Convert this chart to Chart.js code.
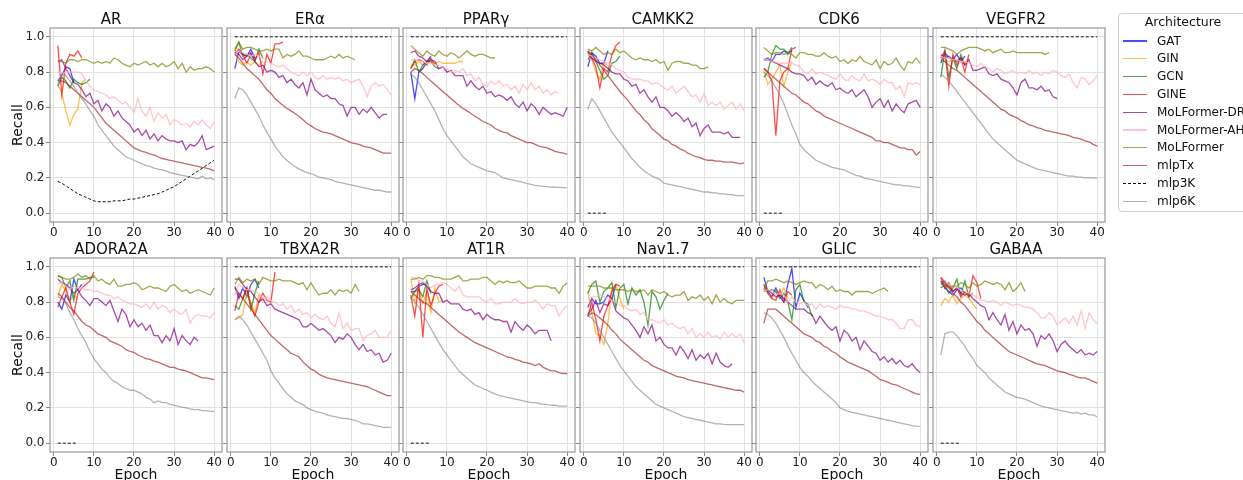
<!DOCTYPE html>
<html><head><meta charset="utf-8">
<script src="https://cdn.jsdelivr.net/npm/chart.js@4.4.0/dist/chart.umd.min.js"></script>
<style>
html,body{margin:0;padding:0;background:#fff;}
body{width:1243px;height:480px;overflow:hidden;position:relative;font-family:'DejaVu Sans',sans-serif;color:#111;}
canvas{position:absolute;}
.lg{position:absolute;font-size:12px;line-height:14px;white-space:nowrap;color:#111;}
.sw{position:absolute;width:24px;height:0;}
</style>
</head><body>
<script>
// ---------- DATA ----------
const epochs = [1,2,3,4,5,6,7,8,9,10,11,12,13,14,15,16,17,18,19,20,21,22,23,24,25,26,27,28,29,30,31,32,33,34,35,36,37,38,39,40];
const xTickValues = [0,10,20,30,40];
const yTickValues = [0,0.2,0.4,0.6,0.8,1.0];
const targets = ['AR','ERα','PPARγ','CAMKK2','CDK6','VEGFR2','ADORA2A','TBXA2R','AT1R','Nav1.7','GLIC','GABAA'];
const architectures = ['GAT','GIN','GCN','GINE','MoLFormer-DR','MoLFormer-AH','MoLFormer','mlpTx','mlp3K','mlp6K'];

// AR
const AR_GAT = [0.75,0.78,0.83,0.82,0.74];
const AR_GIN = [0.73,0.68,0.58,0.50,0.56,0.59,0.74,0.76];
const AR_GCN = [0.72,0.77,0.75,0.71,0.76,0.74,0.73,0.74,0.76];
const AR_GINE = [0.95,0.67,0.85,0.90,0.89,0.92,0.88];
const AR_DR = [0.86,0.87,0.82,0.78,0.74,0.73,0.70,0.66,0.68,0.62,0.64,0.58,0.62,0.60,0.55,0.58,0.54,0.52,0.50,0.46,0.48,0.44,0.47,0.42,0.45,0.41,0.44,0.42,0.41,0.41,0.40,0.41,0.36,0.39,0.38,0.40,0.44,0.36,0.37,0.38];
const AR_AH = [0.80,0.79,0.80,0.80,0.80,0.80,0.79,0.75,0.72,0.70,0.69,0.68,0.67,0.65,0.66,0.64,0.62,0.63,0.60,0.57,0.65,0.58,0.55,0.60,0.52,0.57,0.54,0.56,0.50,0.53,0.52,0.50,0.51,0.49,0.52,0.50,0.53,0.50,0.48,0.52];
const AR_MoL = [0.86,0.86,0.85,0.87,0.87,0.86,0.87,0.87,0.86,0.85,0.86,0.85,0.86,0.85,0.88,0.87,0.85,0.84,0.83,0.85,0.84,0.85,0.86,0.84,0.85,0.83,0.85,0.83,0.84,0.86,0.82,0.85,0.80,0.83,0.81,0.82,0.82,0.83,0.82,0.80];
const AR_Tx = [0.75,0.75,0.74,0.72,0.70,0.68,0.66,0.64,0.62,0.60,0.57,0.54,0.51,0.49,0.47,0.45,0.43,0.41,0.39,0.37,0.36,0.35,0.345,0.335,0.33,0.32,0.31,0.305,0.30,0.295,0.29,0.285,0.28,0.275,0.27,0.265,0.26,0.255,0.25,0.24];
const AR_3K = [0.18,0.17,0.155,0.14,0.125,0.11,0.10,0.09,0.08,0.07,0.065,0.065,0.065,0.065,0.07,0.07,0.07,0.075,0.08,0.08,0.085,0.09,0.095,0.10,0.105,0.11,0.12,0.13,0.14,0.15,0.165,0.18,0.195,0.21,0.225,0.24,0.255,0.27,0.285,0.30];
const AR_6K = [0.73,0.79,0.78,0.75,0.72,0.68,0.65,0.62,0.58,0.55,0.50,0.47,0.44,0.41,0.38,0.36,0.34,0.32,0.31,0.30,0.29,0.28,0.27,0.265,0.255,0.25,0.245,0.24,0.23,0.225,0.22,0.215,0.21,0.205,0.20,0.195,0.21,0.195,0.20,0.19];

// ERα
const ERa_GAT = [0.82,0.92,0.90,0.89,0.93,0.88];
const ERa_GIN = [0.92,0.86,0.84,0.86,0.84,0.86,0.84,0.86];
const ERa_GCN = [0.92,0.97,0.89,0.90,0.88,0.86,0.93,0.88];
const ERa_GINE = [0.90,0.93,0.90,0.85,0.90,0.87,0.91,0.79,0.90,0.85,0.96,0.96,0.97];
const ERa_DR = [0.91,0.90,0.87,0.89,0.91,0.86,0.83,0.84,0.80,0.81,0.80,0.77,0.78,0.74,0.76,0.73,0.71,0.74,0.67,0.76,0.70,0.68,0.66,0.67,0.65,0.65,0.62,0.61,0.55,0.60,0.60,0.56,0.59,0.57,0.60,0.57,0.54,0.56,0.56];
const ERa_AH = [0.90,0.92,0.91,0.90,0.89,0.90,0.89,0.88,0.86,0.85,0.84,0.83,0.84,0.82,0.80,0.79,0.78,0.80,0.78,0.80,0.77,0.76,0.78,0.76,0.77,0.76,0.77,0.75,0.76,0.74,0.75,0.76,0.72,0.66,0.72,0.74,0.72,0.73,0.70,0.67];
const ERa_MoL = [0.93,0.97,0.93,0.94,0.94,0.93,0.92,0.92,0.93,0.92,0.93,0.93,0.88,0.90,0.89,0.90,0.92,0.89,0.89,0.88,0.87,0.87,0.87,0.88,0.89,0.88,0.90,0.88,0.89,0.88,0.87];
const ERa_Tx = [0.90,0.88,0.85,0.82,0.80,0.78,0.76,0.73,0.70,0.68,0.65,0.63,0.61,0.595,0.58,0.565,0.55,0.53,0.51,0.495,0.48,0.47,0.46,0.455,0.45,0.44,0.43,0.42,0.41,0.40,0.395,0.39,0.38,0.375,0.37,0.36,0.35,0.34,0.34,0.34];
const ERa_3K = [1,1,1,1,1,1,1,1,1,1,1,1,1,1,1,1,1,1,1,1,1,1,1,1,1,1,1,1,1,1,1,1,1,1,1,1,1,1,1,1];
const ERa_6K = [0.65,0.71,0.70,0.67,0.63,0.59,0.55,0.50,0.46,0.42,0.38,0.35,0.32,0.30,0.28,0.265,0.25,0.24,0.23,0.225,0.215,0.205,0.20,0.195,0.19,0.18,0.175,0.17,0.165,0.16,0.155,0.15,0.145,0.14,0.135,0.13,0.13,0.125,0.12,0.12];

// PPARγ
const PPARg_GAT = [0.80,0.65,0.80,0.82,0.86,0.89];
const PPARg_GIN = [0.84,0.84,0.86,0.84,0.86,0.86,0.85,0.86,0.85,0.85,0.85,0.85,0.86,0.86];
const PPARg_GCN = [0.82,0.87,0.80,0.84,0.86,0.86,0.83,0.82];
const PPARg_GINE = [0.82,0.86,0.87,0.86,0.84,0.88,0.84];
const PPARg_DR = [0.91,0.92,0.89,0.88,0.86,0.87,0.86,0.82,0.83,0.80,0.81,0.78,0.78,0.78,0.72,0.75,0.72,0.70,0.72,0.68,0.69,0.66,0.67,0.66,0.64,0.66,0.62,0.60,0.63,0.58,0.62,0.60,0.56,0.60,0.58,0.56,0.57,0.56,0.55,0.60];
const PPARg_AH = [0.87,0.87,0.86,0.86,0.85,0.85,0.84,0.84,0.83,0.82,0.80,0.81,0.80,0.82,0.78,0.79,0.75,0.77,0.73,0.72,0.75,0.73,0.75,0.72,0.73,0.70,0.72,0.68,0.73,0.70,0.74,0.70,0.72,0.68,0.70,0.67,0.69,0.68];
const PPARg_MoL = [0.95,0.93,0.91,0.89,0.92,0.90,0.89,0.92,0.90,0.89,0.91,0.90,0.88,0.90,0.92,0.90,0.89,0.90,0.90,0.89,0.88,0.88];
const PPARg_Tx = [0.80,0.82,0.81,0.79,0.77,0.75,0.73,0.71,0.69,0.67,0.65,0.63,0.61,0.595,0.58,0.565,0.55,0.535,0.52,0.51,0.50,0.48,0.47,0.46,0.455,0.44,0.43,0.42,0.41,0.40,0.40,0.39,0.38,0.375,0.37,0.36,0.35,0.345,0.34,0.335];
const PPARg_3K = [1,1,1,1,1,1,1,1,1,1,1,1,1,1,1,1,1,1,1,1,1,1,1,1,1,1,1,1,1,1,1,1,1,1,1,1,1,1,1,1];
const PPARg_6K = [0.79,0.77,0.74,0.70,0.66,0.62,0.58,0.53,0.48,0.44,0.41,0.38,0.35,0.32,0.30,0.28,0.27,0.26,0.25,0.24,0.235,0.23,0.215,0.20,0.195,0.19,0.185,0.18,0.175,0.168,0.163,0.158,0.155,0.152,0.15,0.148,0.147,0.146,0.145,0.145];

// CAMKK2
const CAMKK2_GAT = [0.83,0.91,0.89,0.85,0.85,0.92];
const CAMKK2_GIN = [0.90,0.87,0.80,0.76,0.85,0.84];
const CAMKK2_GCN = [0.87,0.91,0.86,0.81,0.76,0.78,0.85,0.86,0.89];
const CAMKK2_GINE = [0.91,0.88,0.83,0.71,0.82,0.80,0.90,0.95,0.97];
const CAMKK2_DR = [0.92,0.88,0.86,0.85,0.84,0.82,0.80,0.79,0.79,0.76,0.75,0.72,0.73,0.68,0.70,0.66,0.63,0.66,0.60,0.60,0.58,0.55,0.57,0.55,0.52,0.54,0.49,0.51,0.44,0.48,0.50,0.46,0.46,0.46,0.45,0.46,0.43,0.43,0.43];
const CAMKK2_AH = [0.90,0.89,0.88,0.87,0.86,0.85,0.84,0.82,0.81,0.80,0.77,0.76,0.76,0.76,0.75,0.75,0.73,0.74,0.73,0.71,0.70,0.72,0.68,0.70,0.72,0.69,0.66,0.67,0.63,0.68,0.61,0.63,0.61,0.63,0.59,0.61,0.63,0.59,0.62,0.58];
const CAMKK2_MoL = [0.93,0.92,0.94,0.92,0.90,0.91,0.90,0.93,0.91,0.92,0.90,0.88,0.87,0.88,0.87,0.87,0.86,0.87,0.85,0.86,0.81,0.85,0.86,0.86,0.85,0.85,0.84,0.84,0.82,0.82,0.83];
const CAMKK2_Tx = [0.92,0.90,0.87,0.84,0.81,0.78,0.75,0.72,0.69,0.665,0.64,0.61,0.58,0.56,0.53,0.51,0.48,0.46,0.44,0.42,0.41,0.39,0.38,0.365,0.355,0.34,0.33,0.32,0.315,0.305,0.30,0.30,0.295,0.295,0.29,0.29,0.29,0.285,0.28,0.285];
const CAMKK2_3K = [0,0,0,0,0,0];
const CAMKK2_6K = [0.59,0.65,0.62,0.58,0.54,0.50,0.46,0.43,0.40,0.37,0.34,0.31,0.285,0.26,0.24,0.225,0.21,0.20,0.19,0.17,0.165,0.16,0.155,0.15,0.145,0.14,0.135,0.13,0.125,0.12,0.12,0.115,0.115,0.11,0.11,0.105,0.105,0.10,0.10,0.10];

// CDK6
const CDK6_GAT = [0.87,0.87,0.86,0.90,0.90,0.92,0.91,0.92];
const CDK6_GIN = [0.81,0.73,0.76,0.80,0.84,0.72,0.80,0.86];
const CDK6_GCN = [0.77,0.80,0.90,0.95,0.93,0.93,0.90,0.94];
const CDK6_GINE = [0.82,0.80,0.75,0.44,0.75,0.80,0.82,0.93,0.94];
const CDK6_DR = [0.87,0.88,0.86,0.85,0.84,0.83,0.82,0.80,0.79,0.79,0.78,0.75,0.77,0.73,0.75,0.73,0.72,0.74,0.70,0.71,0.69,0.68,0.70,0.66,0.68,0.70,0.66,0.60,0.63,0.65,0.60,0.64,0.58,0.62,0.59,0.57,0.62,0.63,0.64,0.60];
const CDK6_AH = [0.87,0.87,0.86,0.86,0.85,0.85,0.85,0.85,0.84,0.83,0.80,0.79,0.82,0.79,0.80,0.79,0.78,0.77,0.76,0.79,0.76,0.75,0.78,0.76,0.75,0.79,0.75,0.76,0.75,0.73,0.76,0.74,0.74,0.70,0.72,0.66,0.74,0.73,0.74,0.73];
const CDK6_MoL = [0.94,0.92,0.90,0.91,0.91,0.90,0.91,0.90,0.88,0.91,0.91,0.90,0.90,0.89,0.89,0.91,0.89,0.88,0.89,0.86,0.87,0.85,0.87,0.86,0.89,0.86,0.85,0.84,0.87,0.82,0.86,0.84,0.85,0.88,0.84,0.81,0.86,0.85,0.88,0.85];
const CDK6_Tx = [0.82,0.80,0.78,0.76,0.74,0.72,0.70,0.68,0.67,0.65,0.63,0.62,0.60,0.58,0.57,0.55,0.54,0.53,0.52,0.51,0.50,0.49,0.48,0.47,0.46,0.45,0.44,0.43,0.41,0.41,0.40,0.40,0.39,0.38,0.37,0.37,0.36,0.36,0.33,0.35];
const CDK6_3K = [0,0,0,0,0,0];
const CDK6_6K = [0.80,0.78,0.75,0.71,0.67,0.62,0.56,0.50,0.45,0.39,0.36,0.34,0.32,0.30,0.29,0.28,0.27,0.26,0.255,0.25,0.245,0.235,0.225,0.215,0.21,0.20,0.195,0.19,0.185,0.18,0.175,0.17,0.165,0.16,0.16,0.155,0.155,0.15,0.148,0.145];

// VEGFR2
const VEGFR2_GAT = [0.85,0.91,0.88,0.87,0.90,0.86,0.89];
const VEGFR2_GIN = [0.88,0.86,0.86,0.87,0.87,0.86,0.85,0.88];
const VEGFR2_GCN = [0.77,0.92,0.77,0.88,0.82,0.90,0.84];
const VEGFR2_GINE = [0.88,0.92,0.72,0.90,0.84,0.88,0.80,0.90];
const VEGFR2_DR = [0.90,0.88,0.89,0.87,0.86,0.88,0.84,0.87,0.81,0.81,0.82,0.83,0.79,0.78,0.79,0.76,0.75,0.74,0.71,0.67,0.74,0.76,0.71,0.71,0.70,0.72,0.69,0.70,0.66,0.65];
const VEGFR2_AH = [0.89,0.88,0.88,0.87,0.87,0.86,0.86,0.85,0.84,0.83,0.85,0.83,0.82,0.80,0.82,0.81,0.79,0.80,0.81,0.79,0.80,0.79,0.81,0.79,0.80,0.78,0.80,0.79,0.81,0.80,0.78,0.77,0.79,0.74,0.71,0.77,0.76,0.73,0.75,0.78];
const VEGFR2_MoL = [0.94,0.94,0.93,0.92,0.90,0.92,0.93,0.94,0.94,0.94,0.93,0.92,0.93,0.91,0.92,0.93,0.91,0.91,0.92,0.91,0.91,0.91,0.91,0.91,0.91,0.91,0.90,0.91];
const VEGFR2_Tx = [0.87,0.86,0.84,0.82,0.81,0.79,0.77,0.75,0.73,0.71,0.69,0.67,0.65,0.63,0.61,0.59,0.58,0.56,0.55,0.54,0.525,0.515,0.50,0.495,0.485,0.48,0.47,0.465,0.46,0.455,0.45,0.445,0.44,0.43,0.425,0.42,0.41,0.405,0.39,0.38];
const VEGFR2_3K = [1,1,1,1,1,1,1,1,1,1,1,1,1,1,1,1,1,1,1,1,1,1,1,1,1,1,1,1,1,1,1,1,1,1,1,1,1,1,1,1];
const VEGFR2_6K = [0.79,0.77,0.75,0.72,0.69,0.66,0.63,0.60,0.57,0.54,0.51,0.48,0.45,0.42,0.40,0.38,0.36,0.34,0.32,0.30,0.29,0.28,0.27,0.26,0.25,0.245,0.24,0.235,0.23,0.225,0.22,0.215,0.21,0.21,0.205,0.205,0.20,0.20,0.20,0.197];

// ADORA2A
const ADORA2A_GAT = [0.80,0.76,0.84,0.80,0.93,0.87,0.90];
const ADORA2A_GIN = [0.83,0.90,0.86,0.80,0.84,0.82];
const ADORA2A_GCN = [0.95,0.94,0.88,0.92,0.81,0.93,0.93,0.93,0.94,0.94];
const ADORA2A_GINE = [0.77,0.83,0.88,0.80,0.73,0.85,0.88,0.90,0.92,0.97];
const ADORA2A_DR = [0.93,0.91,0.90,0.88,0.85,0.87,0.83,0.81,0.78,0.82,0.82,0.80,0.78,0.81,0.75,0.69,0.76,0.73,0.66,0.70,0.66,0.68,0.64,0.67,0.61,0.61,0.57,0.61,0.58,0.65,0.56,0.61,0.58,0.56,0.60,0.58];
const ADORA2A_AH = [0.90,0.91,0.89,0.87,0.89,0.88,0.88,0.87,0.87,0.86,0.86,0.85,0.84,0.84,0.82,0.83,0.81,0.80,0.79,0.79,0.78,0.77,0.79,0.76,0.80,0.76,0.78,0.77,0.74,0.76,0.74,0.73,0.76,0.68,0.72,0.73,0.72,0.72,0.71,0.74];
const ADORA2A_MoL = [0.95,0.94,0.93,0.93,0.94,0.96,0.94,0.95,0.93,0.95,0.92,0.93,0.91,0.90,0.93,0.89,0.89,0.90,0.90,0.91,0.90,0.87,0.88,0.89,0.88,0.88,0.87,0.86,0.89,0.90,0.88,0.86,0.87,0.85,0.86,0.87,0.86,0.85,0.84,0.88];
const ADORA2A_Tx = [0.85,0.83,0.80,0.77,0.75,0.72,0.69,0.67,0.66,0.64,0.62,0.61,0.60,0.58,0.57,0.56,0.55,0.53,0.52,0.515,0.50,0.49,0.48,0.475,0.465,0.46,0.45,0.44,0.43,0.43,0.42,0.415,0.41,0.40,0.39,0.38,0.37,0.37,0.365,0.36];
const ADORA2A_3K = [0,0,0,0,0,0];
const ADORA2A_6K = [0.83,0.82,0.79,0.74,0.70,0.65,0.61,0.57,0.52,0.48,0.45,0.42,0.40,0.37,0.35,0.34,0.32,0.31,0.30,0.30,0.29,0.28,0.26,0.25,0.23,0.24,0.23,0.23,0.22,0.215,0.21,0.205,0.20,0.195,0.19,0.19,0.185,0.185,0.18,0.18];

// TBXA2R
const TBXA2R_GAT = [0.89,0.82,0.88,0.83,0.90,0.93,0.88];
const TBXA2R_GIN = [0.70,0.71,0.73,0.86,0.80,0.74,0.84,0.80];
const TBXA2R_GCN = [0.78,0.76,0.82,0.88,0.76,0.85,0.92];
const TBXA2R_GINE = [0.75,0.85,0.82,0.88,0.78,0.72,0.80,0.85,0.81,0.80,0.97];
const TBXA2R_DR = [0.93,0.93,0.90,0.87,0.86,0.83,0.80,0.82,0.78,0.79,0.76,0.75,0.74,0.73,0.72,0.71,0.70,0.66,0.66,0.68,0.66,0.64,0.65,0.63,0.61,0.57,0.60,0.59,0.62,0.60,0.56,0.53,0.56,0.52,0.53,0.50,0.51,0.46,0.47,0.51];
const TBXA2R_AH = [0.84,0.90,0.88,0.87,0.87,0.86,0.85,0.82,0.83,0.81,0.80,0.78,0.79,0.76,0.78,0.74,0.76,0.73,0.74,0.71,0.73,0.71,0.70,0.72,0.68,0.66,0.74,0.65,0.68,0.64,0.65,0.65,0.58,0.61,0.62,0.64,0.60,0.60,0.60,0.64];
const TBXA2R_MoL = [0.90,0.94,0.91,0.93,0.92,0.93,0.90,0.94,0.93,0.92,0.92,0.93,0.92,0.92,0.92,0.91,0.90,0.91,0.87,0.91,0.87,0.84,0.85,0.85,0.87,0.84,0.87,0.86,0.87,0.85,0.90,0.86];
const TBXA2R_Tx = [0.88,0.85,0.82,0.79,0.76,0.73,0.70,0.67,0.64,0.61,0.59,0.57,0.55,0.53,0.51,0.50,0.49,0.46,0.44,0.42,0.41,0.39,0.38,0.37,0.365,0.36,0.355,0.35,0.345,0.34,0.335,0.33,0.325,0.32,0.31,0.30,0.29,0.28,0.27,0.27];
const TBXA2R_3K = [1,1,1,1,1,1,1,1,1,1,1,1,1,1,1,1,1,1,1,1,1,1,1,1,1,1,1,1,1,1,1,1,1,1,1,1,1,1,1,1];
const TBXA2R_6K = [0.70,0.72,0.70,0.67,0.63,0.59,0.55,0.51,0.47,0.41,0.37,0.34,0.31,0.28,0.26,0.24,0.23,0.22,0.20,0.19,0.18,0.175,0.17,0.16,0.155,0.15,0.145,0.14,0.14,0.135,0.13,0.12,0.11,0.11,0.105,0.10,0.095,0.09,0.09,0.09];

// AT1R
const AT1R_GAT = [0.86,0.86,0.89,0.90,0.90];
const AT1R_GIN = [0.93,0.80,0.88,0.79,0.86,0.74,0.88,0.80,0.81];
const AT1R_GCN = [0.82,0.86,0.87,0.83,0.92,0.85];
const AT1R_GINE = [0.84,0.72,0.90,0.60,0.88,0.78,0.85,0.89,0.90];
const AT1R_DR = [0.87,0.88,0.90,0.91,0.89,0.86,0.85,0.85,0.80,0.81,0.79,0.79,0.79,0.76,0.75,0.76,0.73,0.74,0.70,0.73,0.71,0.70,0.70,0.69,0.69,0.63,0.69,0.66,0.64,0.67,0.65,0.62,0.64,0.64,0.64,0.58];
const AT1R_AH = [0.94,0.94,0.92,0.92,0.90,0.88,0.90,0.90,0.91,0.90,0.88,0.86,0.89,0.84,0.83,0.83,0.83,0.83,0.81,0.80,0.82,0.79,0.79,0.80,0.80,0.80,0.82,0.80,0.79,0.80,0.80,0.81,0.79,0.76,0.79,0.78,0.78,0.72,0.76,0.78];
const AT1R_MoL = [0.93,0.93,0.94,0.93,0.95,0.95,0.94,0.94,0.93,0.93,0.93,0.94,0.95,0.92,0.92,0.93,0.93,0.93,0.94,0.94,0.92,0.90,0.92,0.91,0.92,0.91,0.91,0.92,0.90,0.88,0.88,0.89,0.89,0.89,0.89,0.88,0.88,0.85,0.89,0.91];
const AT1R_Tx = [0.86,0.84,0.82,0.80,0.79,0.77,0.75,0.73,0.71,0.69,0.67,0.65,0.63,0.615,0.60,0.585,0.57,0.56,0.55,0.54,0.53,0.52,0.51,0.50,0.49,0.485,0.475,0.47,0.46,0.455,0.45,0.44,0.45,0.43,0.42,0.41,0.41,0.40,0.395,0.395];
const AT1R_3K = [0,0,0,0,0,0];
const AT1R_6K = [0.83,0.80,0.77,0.73,0.69,0.65,0.61,0.57,0.53,0.50,0.47,0.44,0.41,0.39,0.37,0.35,0.33,0.32,0.31,0.30,0.29,0.28,0.27,0.265,0.26,0.255,0.25,0.245,0.24,0.235,0.23,0.23,0.225,0.22,0.22,0.215,0.215,0.21,0.21,0.21];

// Nav1.7
const Nav17_GAT = [0.77,0.82,0.79,0.79,0.80,0.84,0.82,0.90];
const Nav17_GIN = [0.86,0.74,0.62,0.61,0.56,0.68,0.88,0.90,0.82,0.76];
const Nav17_GCN = [0.85,0.90,0.92,0.80,0.86,0.88,0.91,0.77,0.88,0.90,0.79,0.88,0.84,0.87,0.80,0.67,0.86,0.83,0.76,0.81,0.85];
const Nav17_GINE = [0.72,0.80,0.70,0.58,0.72,0.78,0.86,0.90,0.89];
const Nav17_DR = [0.73,0.76,0.81,0.74,0.79,0.78,0.82,0.75,0.73,0.71,0.70,0.67,0.64,0.60,0.66,0.62,0.67,0.58,0.60,0.56,0.54,0.54,0.50,0.55,0.52,0.48,0.53,0.47,0.50,0.48,0.51,0.45,0.51,0.46,0.44,0.43,0.45];
const Nav17_AH = [0.82,0.83,0.83,0.84,0.83,0.82,0.81,0.80,0.78,0.78,0.76,0.75,0.76,0.73,0.74,0.70,0.70,0.69,0.68,0.70,0.67,0.68,0.66,0.65,0.66,0.62,0.65,0.60,0.62,0.60,0.63,0.60,0.61,0.59,0.63,0.60,0.62,0.60,0.62,0.57];
const Nav17_MoL = [0.89,0.89,0.89,0.89,0.88,0.88,0.88,0.87,0.87,0.87,0.86,0.87,0.86,0.86,0.87,0.84,0.87,0.86,0.85,0.86,0.84,0.83,0.84,0.84,0.86,0.81,0.83,0.82,0.84,0.81,0.83,0.79,0.84,0.80,0.82,0.80,0.79,0.81,0.81,0.81];
const Nav17_Tx = [0.72,0.74,0.73,0.71,0.69,0.67,0.64,0.62,0.59,0.57,0.55,0.53,0.51,0.49,0.47,0.46,0.44,0.43,0.42,0.41,0.40,0.39,0.38,0.375,0.37,0.36,0.355,0.35,0.345,0.34,0.335,0.33,0.325,0.32,0.315,0.31,0.305,0.30,0.30,0.29];
const Nav17_3K = [1,1,1,1,1,1,1,1,1,1,1,1,1,1,1,1,1,1,1,1,1,1,1,1,1,1,1,1,1,1,1,1,1,1,1,1,1,1,1,1];
const Nav17_6K = [0.72,0.71,0.68,0.64,0.60,0.56,0.52,0.48,0.44,0.41,0.38,0.35,0.32,0.30,0.28,0.26,0.24,0.22,0.21,0.20,0.19,0.18,0.17,0.16,0.15,0.145,0.14,0.135,0.13,0.125,0.12,0.115,0.11,0.11,0.107,0.105,0.105,0.105,0.105,0.105];

// GLIC
const GLIC_GAT = [0.94,0.86,0.83,0.88,0.83,0.80,0.90,0.99,0.77,0.85,0.81,0.77];
const GLIC_GIN = [0.88,0.85,0.82,0.86,0.84,0.88,0.82];
const GLIC_GCN = [0.90,0.86,0.87,0.86,0.82,0.85,0.80,0.70,0.87,0.90,0.80,0.79,0.72];
const GLIC_GINE = [0.90,0.85,0.82,0.81,0.87,0.80,0.86,0.84];
const GLIC_DR = [0.86,0.87,0.85,0.83,0.84,0.82,0.80,0.78,0.76,0.76,0.76,0.74,0.73,0.68,0.72,0.69,0.66,0.64,0.66,0.58,0.64,0.62,0.58,0.60,0.53,0.58,0.55,0.52,0.51,0.47,0.49,0.46,0.48,0.45,0.47,0.44,0.43,0.45,0.42,0.40];
const GLIC_AH = [0.86,0.87,0.86,0.84,0.85,0.84,0.80,0.83,0.80,0.79,0.80,0.78,0.79,0.76,0.79,0.77,0.78,0.77,0.76,0.78,0.77,0.77,0.76,0.76,0.75,0.75,0.74,0.73,0.72,0.72,0.71,0.70,0.70,0.68,0.65,0.65,0.70,0.70,0.67,0.66];
const GLIC_MoL = [0.87,0.92,0.92,0.93,0.92,0.91,0.92,0.91,0.90,0.91,0.92,0.91,0.91,0.88,0.90,0.89,0.87,0.89,0.86,0.87,0.86,0.86,0.84,0.86,0.86,0.86,0.86,0.85,0.86,0.87,0.88,0.86];
const GLIC_Tx = [0.68,0.76,0.76,0.76,0.74,0.72,0.70,0.68,0.66,0.64,0.62,0.61,0.60,0.58,0.57,0.55,0.54,0.52,0.51,0.49,0.475,0.46,0.45,0.44,0.43,0.42,0.41,0.395,0.38,0.36,0.355,0.345,0.335,0.33,0.32,0.31,0.30,0.29,0.28,0.277];
const GLIC_3K = [1,1,1,1,1,1,1,1,1,1,1,1,1,1,1,1,1,1,1,1,1,1,1,1,1,1,1,1,1,1,1,1,1,1,1,1,1,1,1,1];
const GLIC_6K = [0.74,0.73,0.71,0.68,0.64,0.60,0.55,0.51,0.47,0.43,0.40,0.38,0.35,0.33,0.31,0.29,0.27,0.25,0.23,0.20,0.19,0.18,0.175,0.17,0.165,0.16,0.155,0.15,0.145,0.14,0.135,0.13,0.125,0.12,0.115,0.11,0.105,0.10,0.097,0.095];

// GABAA
const GABAA_GAT = [0.92,0.88,0.86,0.84,0.87,0.88,0.85];
const GABAA_GIN = [0.78,0.82,0.80,0.84,0.79,0.82,0.84,0.82,0.79,0.76];
const GABAA_GCN = [0.88,0.90,0.85,0.88,0.93,0.84,0.92,0.83,0.85];
const GABAA_GINE = [0.94,0.88,0.91,0.86,0.88,0.83,0.86,0.83,0.95,0.91,0.82];
const GABAA_DR = [0.90,0.92,0.89,0.86,0.88,0.85,0.84,0.85,0.82,0.80,0.78,0.77,0.70,0.74,0.70,0.67,0.73,0.64,0.69,0.62,0.67,0.64,0.65,0.62,0.55,0.61,0.59,0.62,0.58,0.52,0.56,0.58,0.55,0.53,0.51,0.53,0.50,0.51,0.50,0.52];
const GABAA_AH = [0.94,0.92,0.90,0.89,0.88,0.87,0.86,0.85,0.84,0.83,0.81,0.81,0.80,0.81,0.80,0.78,0.80,0.79,0.78,0.79,0.78,0.77,0.77,0.76,0.74,0.71,0.71,0.74,0.72,0.67,0.69,0.71,0.68,0.72,0.67,0.75,0.65,0.74,0.70,0.68];
const GABAA_MoL = [0.92,0.90,0.88,0.89,0.89,0.91,0.90,0.88,0.91,0.89,0.90,0.92,0.91,0.90,0.91,0.90,0.87,0.91,0.86,0.88,0.91,0.86];
const GABAA_Tx = [0.94,0.91,0.88,0.85,0.83,0.80,0.78,0.75,0.72,0.69,0.67,0.64,0.62,0.60,0.58,0.56,0.54,0.52,0.51,0.50,0.49,0.48,0.47,0.46,0.45,0.445,0.44,0.43,0.42,0.41,0.405,0.40,0.39,0.385,0.375,0.37,0.37,0.36,0.35,0.34];
const GABAA_3K = [0,0,0,0,0,0];
const GABAA_6K = [0.50,0.62,0.63,0.63,0.61,0.58,0.55,0.51,0.48,0.44,0.42,0.40,0.37,0.35,0.33,0.31,0.29,0.28,0.27,0.26,0.255,0.25,0.24,0.23,0.22,0.21,0.205,0.20,0.195,0.19,0.185,0.18,0.175,0.17,0.175,0.165,0.17,0.16,0.16,0.15];

// ---------- STYLE ----------
const FONT = "'DejaVu Sans', sans-serif";
const lineColors = ['rgba(0,0,255,0.7)','rgba(255,165,0,0.7)','rgba(0,128,0,0.7)','rgba(255,0,0,0.7)',
  'rgba(128,0,128,0.7)','rgba(255,182,193,0.8)','rgba(128,128,0,0.7)','rgba(165,42,42,0.7)','#111','rgba(128,128,128,0.6)'];
const seriesByPanel = [
  [AR_GAT,AR_GIN,AR_GCN,AR_GINE,AR_DR,AR_AH,AR_MoL,AR_Tx,AR_3K,AR_6K],
  [ERa_GAT,ERa_GIN,ERa_GCN,ERa_GINE,ERa_DR,ERa_AH,ERa_MoL,ERa_Tx,ERa_3K,ERa_6K],
  [PPARg_GAT,PPARg_GIN,PPARg_GCN,PPARg_GINE,PPARg_DR,PPARg_AH,PPARg_MoL,PPARg_Tx,PPARg_3K,PPARg_6K],
  [CAMKK2_GAT,CAMKK2_GIN,CAMKK2_GCN,CAMKK2_GINE,CAMKK2_DR,CAMKK2_AH,CAMKK2_MoL,CAMKK2_Tx,CAMKK2_3K,CAMKK2_6K],
  [CDK6_GAT,CDK6_GIN,CDK6_GCN,CDK6_GINE,CDK6_DR,CDK6_AH,CDK6_MoL,CDK6_Tx,CDK6_3K,CDK6_6K],
  [VEGFR2_GAT,VEGFR2_GIN,VEGFR2_GCN,VEGFR2_GINE,VEGFR2_DR,VEGFR2_AH,VEGFR2_MoL,VEGFR2_Tx,VEGFR2_3K,VEGFR2_6K],
  [ADORA2A_GAT,ADORA2A_GIN,ADORA2A_GCN,ADORA2A_GINE,ADORA2A_DR,ADORA2A_AH,ADORA2A_MoL,ADORA2A_Tx,ADORA2A_3K,ADORA2A_6K],
  [TBXA2R_GAT,TBXA2R_GIN,TBXA2R_GCN,TBXA2R_GINE,TBXA2R_DR,TBXA2R_AH,TBXA2R_MoL,TBXA2R_Tx,TBXA2R_3K,TBXA2R_6K],
  [AT1R_GAT,AT1R_GIN,AT1R_GCN,AT1R_GINE,AT1R_DR,AT1R_AH,AT1R_MoL,AT1R_Tx,AT1R_3K,AT1R_6K],
  [Nav17_GAT,Nav17_GIN,Nav17_GCN,Nav17_GINE,Nav17_DR,Nav17_AH,Nav17_MoL,Nav17_Tx,Nav17_3K,Nav17_6K],
  [GLIC_GAT,GLIC_GIN,GLIC_GCN,GLIC_GINE,GLIC_DR,GLIC_AH,GLIC_MoL,GLIC_Tx,GLIC_3K,GLIC_6K],
  [GABAA_GAT,GABAA_GIN,GABAA_GCN,GABAA_GINE,GABAA_DR,GABAA_AH,GABAA_MoL,GABAA_Tx,GABAA_3K,GABAA_6K]
];

// ---------- LAYOUT ----------
const colLeft = [50,227,403,580,756,933];
const frameW = 172, frameH = 194;
const rowTop = [28,258];

const framePlugin = {
  id:'frame',
  afterDatasetsDraw(chart){
    const {ctx, chartArea:a} = chart;
    ctx.save();
    ctx.strokeStyle = '#999';
    ctx.lineWidth = 1.2;
    ctx.strokeRect(a.left, a.top, a.right - a.left, a.bottom - a.top);
    ctx.restore();
  }
};

function makePanel(idx){
  const col = idx % 6, row = Math.floor(idx / 6);
  const yW = col === 0 ? 50 : 6;
  const titlePadTop = 7, titleLH = 15;
  const titleH = titlePadTop + titleLH, xH = row === 1 ? 32 : 20, padR = 3;
  const W = yW + frameW + padR, H = titleH + frameH + xH;
  const cv = document.createElement('canvas');
  cv.width = W; cv.height = H;
  cv.style.width = W + 'px'; cv.style.height = H + 'px';
  cv.style.left = (colLeft[col] - yW) + 'px';
  cv.style.top = (rowTop[row] - titleH) + 'px';
  document.body.appendChild(cv);

  const series = seriesByPanel[idx];
  const datasets = [];
  for (let k = architectures.length - 1; k >= 0; k--) {
    const vals = series[k];
    datasets.push({
      label: architectures[k],
      data: vals.map((v, i) => ({x: epochs[i], y: v})),
      borderColor: lineColors[k],
      backgroundColor: lineColors[k],
      borderWidth: k === 8 ? 1 : 1.3,
      borderDash: k === 8 ? [3, 2] : [],
      pointRadius: 0,
      fill: false,
      tension: 0
    });
  }
  const gridOpts = {color:'#e2e2e2', lineWidth:1, drawTicks:true, tickLength:4, tickColor:'#8a8a8a', tickWidth:1};
  new Chart(cv, {
    type:'line',
    data:{datasets},
    plugins:[framePlugin],
    options:{
      responsive:false, animation:false, devicePixelRatio:1,
      layout:{padding:{left:0, right:padR, top:0, bottom:0}},
      plugins:{
        legend:{display:false}, tooltip:{enabled:false},
        title:{display:true, text:targets[idx], color:'#111', font:{family:FONT, size:15, weight:'normal', lineHeight:1}, padding:{top:titlePadTop, bottom:0}}
      },
      scales:{
        x:{
          type:'linear', min:-0.95, max:41.95,
          afterBuildTicks:s => { s.ticks = xTickValues.map(v => ({value:v})); },
          afterFit:s => { s.height = xH; s.paddingLeft = 0; s.paddingRight = 0; },
          ticks:{autoSkip:false, maxRotation:0, minRotation:0, padding:0, color:'#222', font:{family:FONT, size:12}, callback:v => String(v)},
          grid:gridOpts,
          border:{display:false},
          title:{display:row === 1, text:'Epoch', color:'#111', font:{family:FONT, size:14}, padding:{top:0, bottom:0}}
        },
        y:{
          type:'linear', min:-0.05, max:1.05,
          afterBuildTicks:s => { s.ticks = yTickValues.map(v => ({value:v})); },
          afterFit:s => { s.width = yW; s.paddingTop = 0; s.paddingBottom = 0; },
          ticks:{display:col === 0, padding:1.5, color:'#222', font:{family:FONT, size:12}, callback:v => Number(v).toFixed(1)},
          grid:gridOpts,
          border:{display:false},
          title:{display:col === 0, text:'Recall', color:'#111', font:{family:FONT, size:14}, padding:{top:9.5, bottom:0}}
        }
      }
    }
  });
}

for (let i = 0; i < targets.length; i++) makePanel(i);

// ---------- LEGEND ----------
(function(){
  const box = document.createElement('div');
  box.style.cssText = 'position:absolute;left:1118px;top:13px;width:134px;height:199px;border:1px solid #d0d0d0;border-radius:4px;background:#fff;box-sizing:border-box;';
  document.body.appendChild(box);
  const t = document.createElement('div');
  t.className = 'lg';
  t.style.cssText += 'left:1118px;top:15px;width:130px;text-align:center;font-size:12.5px;';
  t.textContent = 'Architecture';
  document.body.appendChild(t);
  for (let k = 0; k < architectures.length; k++) {
    const cy = 41 + 17.8 * k;
    const sw = document.createElement('div');
    sw.className = 'sw';
    sw.style.left = '1123px';
    sw.style.top = (cy - 0.7) + 'px';
    if (k === 8) {
      sw.style.height = '1px';
      sw.style.background = 'repeating-linear-gradient(90deg,#111 0 3px,transparent 3px 5px)';
    } else {
      sw.style.height = '1.4px';
      sw.style.background = lineColors[k];
    }
    document.body.appendChild(sw);
    const lb = document.createElement('div');
    lb.className = 'lg';
    lb.style.left = '1157px';
    lb.style.top = (cy - 7.5) + 'px';
    lb.textContent = architectures[k];
    document.body.appendChild(lb);
  }
})();
</script>
</body></html>
